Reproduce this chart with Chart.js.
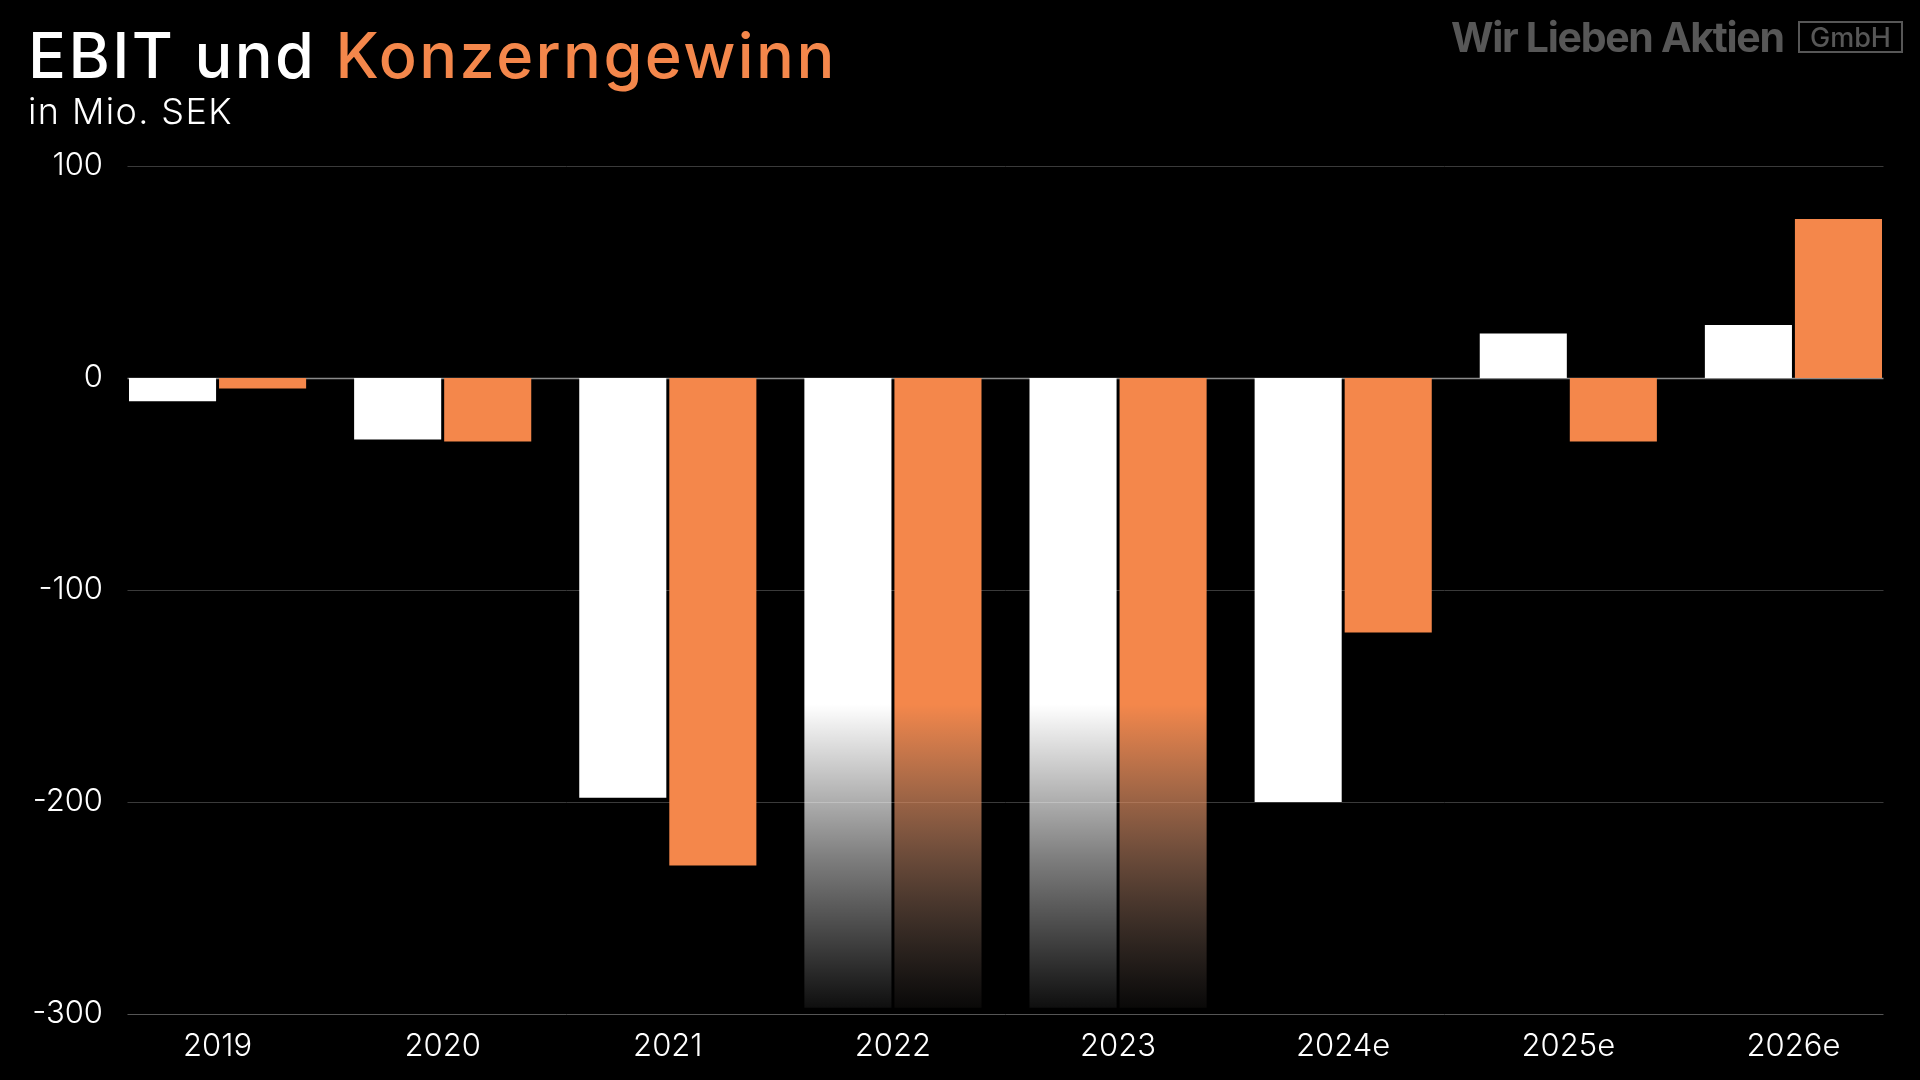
<!DOCTYPE html>
<html>
<head>
<meta charset="utf-8">
<script src="https://cdn.jsdelivr.net/npm/chart.js@4"></script>
<style>
  html, body { margin: 0; padding: 0; background: #000; }
  #wrap { position: relative; width: 1920px; height: 1080px; overflow: hidden; }
  #myChart { position: absolute; left: 0; top: 0; }
  .title { position: absolute; left: 28px; top: 24px; font: 500 63px Inter, sans-serif; line-height: 1; color: #fff; white-space: nowrap; letter-spacing: 2.4px; }
  .title span { color: #F4874B; }
  .sub { position: absolute; left: 28px; top: 93px; font: 300 36px Inter, sans-serif; line-height: 1; color: #fff; white-space: nowrap; letter-spacing: 1.4px; }
  .logo { position: absolute; left: 1451px; top: 17px; font: 700 41px Inter, sans-serif; line-height: 1; color: #575757; white-space: nowrap; letter-spacing: -1.3px; }
  .gmbh { position: absolute; left: 1798px; top: 21px; width: 101px; height: 28px; border: 2px solid #575757; font: 500 27px Inter, sans-serif; line-height: 29px; color: #575757; text-align: center; }
</style>
</head>
<body>
<div id="wrap">
  <canvas id="myChart" width="1920" height="1080"></canvas>
  <div class="title">EBIT und <span>Konzerngewinn</span></div>
  <div class="sub">in Mio. SEK</div>
  <div class="logo">Wir Lieben Aktien</div>
  <div class="gmbh">GmbH</div>
</div>
<script>
const years = ['2019', '2020', '2021', '2022', '2023', '2024e', '2025e', '2026e'];
const ebit = [-11, -29, -198, -297, -297, -200, 21, 25];
const konzerngewinn = [-5, -30, -230, -297, -297, -120, -30, 75];
const yTicks = [100, 0, -100, -200, -300];

// Balken, die ausgeblendet nach unten auslaufen
const fadedYears = ['2022', '2023'];

const ctx = document.getElementById('myChart').getContext('2d');

function barColor(top, mid, bottom) {
    return function(c) {
        if (!fadedYears.includes(years[c.dataIndex])) {
            return 'rgb(' + top + ')';
        }
        const area = c.chart.chartArea;
        if (!area) return 'rgb(' + top + ')';
        const y = c.chart.scales.y;
        const g = c.chart.ctx.createLinearGradient(0, y.getPixelForValue(-154), 0, y.getPixelForValue(-297));
        g.addColorStop(0, 'rgba(' + top + ',1)');
        g.addColorStop(0.5, 'rgba(' + mid + ',0.5)');
        g.addColorStop(1, 'rgba(' + bottom + ',0.06)');
        return g;
    };
}

const gridLines = {
    id: 'gridLines',
    beforeDatasetsDraw(chart) {
        const area = chart.chartArea;
        const yScale = chart.scales.y;
        const catW = (area.right - area.left) / years.length;
        const left = area.left + catW * 0.1;
        const right = area.right - catW * 0.1;
        const c = chart.ctx;
        c.save();
        yTicks.forEach(v => {
            const py = Math.round(yScale.getPixelForValue(v)) + 0.5;
            c.strokeStyle = v === 0 ? '#8a8a8a' : (v === -300 ? '#555555' : '#3a3a3a');
            c.lineWidth = v === 0 ? 1.5 : 1;
            c.beginPath();
            c.moveTo(left, py);
            c.lineTo(right, py);
            c.stroke();
        });
        c.restore();
    }
};

Chart.defaults.font.family = 'Inter, sans-serif';

new Chart(ctx, {
    type: 'bar',
    data: {
        labels: years,
        datasets: [{
            label: 'EBIT',
            data: ebit,
            backgroundColor: barColor('255,255,255', '255,255,255', '255,255,255'),
            borderWidth: 0,
            categoryPercentage: 0.8,
            barPercentage: 0.967
        }, {
            label: 'Konzerngewinn',
            data: konzerngewinn,
            backgroundColor: barColor('244,135,75', '215,150,115', '170,150,140'),
            borderWidth: 0,
            categoryPercentage: 0.8,
            barPercentage: 0.967
        }]
    },
    options: {
        responsive: false,
        animation: false,
        devicePixelRatio: 1,
        layout: { padding: { top: 166, right: 14, bottom: 0, left: 0 } },
        plugins: {
            legend: { display: false },
            tooltip: { enabled: false }
        },
        scales: {
            x: {
                grid: { display: false, drawTicks: false },
                border: { display: false },
                ticks: { color: '#ffffff', font: { size: 31, weight: 300 }, padding: 14 },
                afterFit: function(scale) { scale.height = 66; }
            },
            y: {
                min: -300,
                max: 100,
                grid: { display: false, drawTicks: false },
                border: { display: false },
                ticks: {
                    stepSize: 100,
                    color: '#ffffff',
                    font: { size: 31, weight: 300 },
                    padding: 2
                },
                afterFit: function(scale) { scale.width = 105; }
            }
        }
    },
    plugins: [gridLines]
});
</script>
</body>
</html>
